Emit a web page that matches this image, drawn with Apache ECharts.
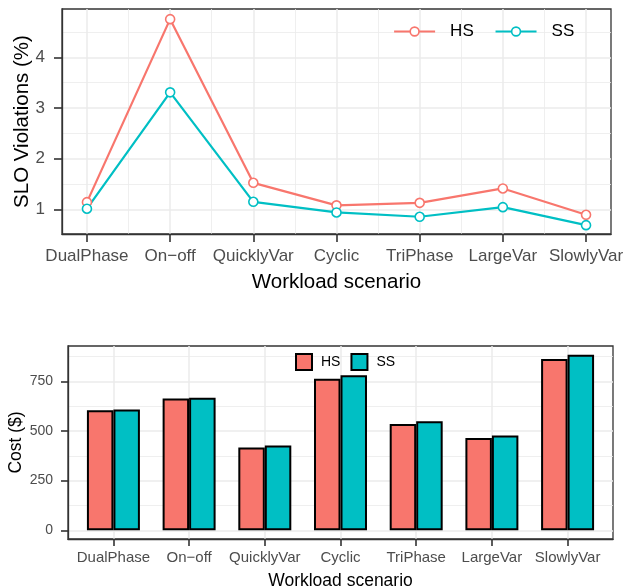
<!DOCTYPE html>
<html>
<head>
<meta charset="utf-8">
<script src="https://cdn.jsdelivr.net/npm/echarts@6/dist/echarts.min.js"></script>
<style>
  html, body { margin: 0; padding: 0; background: #ffffff; }
  #chart { width: 624px; height: 588px; }
</style>
</head>
<body>
<div id="chart"></div>
<script>
// Workload scenarios shared by both panels
const categories = ['DualPhase', 'On\u2212off', 'QuicklyVar', 'Cyclic', 'TriPhase', 'LargeVar', 'SlowlyVar'];

// SLO violations (%) per scenario
const sloHS = [1.144, 4.755, 1.525, 1.08, 1.13, 1.414, 0.894];
const sloSS = [1.014, 3.31, 1.15, 0.94, 0.855, 1.045, 0.69];

// Cost ($) per scenario
const costHS = [604, 663, 417, 763, 535, 465, 862];
const costSS = [608, 668, 427, 781, 549, 477, 884];

// Tick values
const sloTicks = [1, 2, 3, 4];
const sloMinorTicks = [1.5, 2.5, 3.5, 4.5];
const costTicks = [0, 250, 500, 750];
const costMinorTicks = [125, 375, 625, 875];

const seriesNames = ['HS', 'SS'];

// Positions of the scenarios along the x axes (1..n) and the midpoints between them
const catPos = categories.map((_, i) => i + 1);
const catMid = categories.slice(1).map((_, i) => i + 1.5);

const RED = '#F8766D';
const TEAL = '#00BFC4';
const GRID_COLOR = '#EBEBEB';
const TICK_COLOR = '#333333';
const LABEL_COLOR = '#4D4D4D';
const FONT = 'Liberation Sans, Arial, Helvetica, sans-serif';

const toPoints = vals => vals.map((v, i) => [catPos[i], v]);

function majorAxis(opts) {
  return Object.assign({
    type: 'value',
    axisLine: { show: true, onZero: false, lineStyle: { color: TICK_COLOR, width: 1.3 } },
    axisTick: { show: true, inside: false, length: opts.tickLen, customValues: opts.ticks,
      lineStyle: { color: TICK_COLOR, width: 1.6 } },
    axisLabel: { show: true, customValues: opts.ticks, color: LABEL_COLOR,
      fontFamily: FONT, fontSize: opts.labelSize, margin: opts.margin,
      formatter: opts.formatter },
    splitLine: { show: true, lineStyle: { color: GRID_COLOR, width: 1.5 } },
    nameLocation: 'middle',
    nameMoveOverlap: false,
    nameTextStyle: { color: '#000', fontFamily: FONT, fontSize: opts.nameSize },
  }, opts.extra);
}

function minorAxis(opts) {
  return Object.assign({
    type: 'value',
    show: true,
    axisLine: { show: false },
    axisTick: { show: false, customValues: opts.ticks },
    axisLabel: { show: false, customValues: opts.ticks },
    splitLine: { show: true, lineStyle: { color: GRID_COLOR, width: 0.8 } },
  }, opts.extra);
}

const catFormatter = v => categories[Math.round(v) - 1] || '';

const option = {
  animation: false,
  backgroundColor: '#ffffff',
  textStyle: { fontFamily: FONT },
  grid: [
    { left: 62, top: 9, width: 549, height: 225, show: true, containLabel: false,
      outerBoundsMode: 'none',
      borderColor: '#333333', borderWidth: 1.3, backgroundColor: 'transparent' },
    { left: 68, top: 346, width: 545, height: 193, show: true, containLabel: false,
      outerBoundsMode: 'none',
      borderColor: '#333333', borderWidth: 1.3, backgroundColor: 'transparent' }
  ],
  legend: [
    {
      data: seriesNames.map(n => ({ name: n + ' ' })),
      left: 393, top: 23, padding: 0,
      itemWidth: 41, itemHeight: 11, itemGap: 16,
      lineStyle: { width: 2.2 },
      itemStyle: { borderWidth: 1.6 },
      textStyle: { color: '#000', fontFamily: FONT, fontSize: 17, padding: [0, 0, 0, 10] }
    },
    {
      data: seriesNames,
      left: 295, top: 353, padding: 0,
      icon: 'rect',
      itemWidth: 16, itemHeight: 16, itemGap: 10,
      textStyle: { color: '#000', fontFamily: FONT, fontSize: 14, padding: [0, 0, 0, 4] }
    }
  ],
  xAxis: [
    majorAxis({ ticks: catPos, tickLen: 8, labelSize: 17, margin: 14, formatter: catFormatter,
      nameSize: 20.5,
      extra: { gridIndex: 0, position: 'bottom', min: 0.7, max: 7.3, name: 'Workload scenario', nameGap: 38 } }),
    minorAxis({ ticks: catMid, extra: { gridIndex: 0, position: 'top', min: 0.7, max: 7.3 } }),
    majorAxis({ ticks: catPos, tickLen: 7, labelSize: 15, margin: 11, formatter: catFormatter,
      nameSize: 17.5,
      extra: { gridIndex: 1, position: 'bottom', min: 0.4, max: 7.6, name: 'Workload scenario', nameGap: 33 } })
  ],
  yAxis: [
    majorAxis({ ticks: sloTicks, tickLen: 8, labelSize: 17, margin: 17, formatter: v => String(v),
      nameSize: 20.5,
      extra: { gridIndex: 0, position: 'left', min: 0.515, max: 4.955, name: 'SLO Violations (%)', nameGap: 29 } }),
    minorAxis({ ticks: sloMinorTicks, extra: { gridIndex: 0, position: 'right', min: 0.515, max: 4.955 } }),
    majorAxis({ ticks: costTicks, tickLen: 7, labelSize: 14, margin: 15, formatter: v => String(v),
      nameSize: 17.5,
      extra: { gridIndex: 1, position: 'left', min: -44, max: 928, name: 'Cost ($)', nameGap: 43 } }),
    minorAxis({ ticks: costMinorTicks, extra: { gridIndex: 1, position: 'right', min: -44, max: 928 } })
  ],
  series: [
    {
      name: 'HS ', type: 'line', xAxisIndex: 0, yAxisIndex: 0,
      data: toPoints(sloHS),
      symbol: 'circle', symbolSize: 9,
      lineStyle: { color: RED, width: 2.2 },
      itemStyle: { color: '#ffffff', borderColor: RED, borderWidth: 1.6 },
      z: 3
    },
    {
      name: 'SS ', type: 'line', xAxisIndex: 0, yAxisIndex: 0,
      data: toPoints(sloSS),
      symbol: 'circle', symbolSize: 9,
      lineStyle: { color: TEAL, width: 2.2 },
      itemStyle: { color: '#ffffff', borderColor: TEAL, borderWidth: 1.6 },
      z: 3
    },
    {
      name: 'HS', type: 'bar', xAxisIndex: 2, yAxisIndex: 2,
      data: toPoints(costHS),
      barWidth: '35%', barGap: '0%',
      itemStyle: { color: RED, borderColor: '#000', borderWidth: 2 },
      z: 3
    },
    {
      name: 'SS', type: 'bar', xAxisIndex: 2, yAxisIndex: 2,
      data: toPoints(costSS),
      barWidth: '35%', barGap: '0%',
      itemStyle: { color: TEAL, borderColor: '#000', borderWidth: 2 },
      z: 3
    }
  ]
};

const chart = echarts.init(document.getElementById('chart'), null, { renderer: 'canvas' });
chart.setOption(option);
</script>
</body>
</html>
